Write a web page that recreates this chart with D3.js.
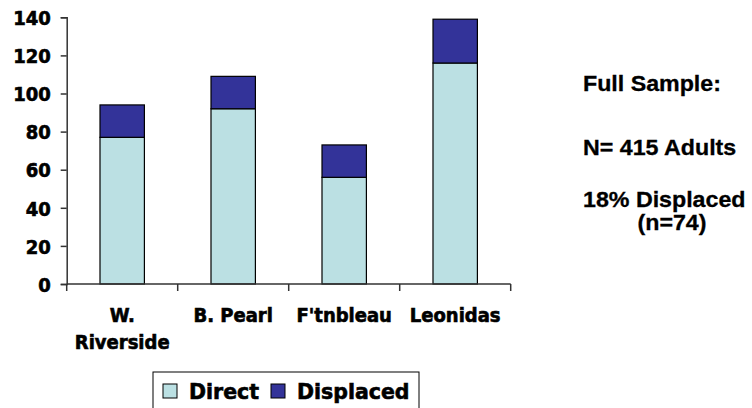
<!DOCTYPE html>
<html><head><meta charset="utf-8">
<script src="https://cdn.jsdelivr.net/npm/d3@7"></script>
<style>
html,body{margin:0;padding:0;background:#fff;}
svg{display:block;}
.ax{font-family:"DejaVu Sans Condensed","DejaVu Sans",sans-serif;font-weight:bold;font-size:20px;fill:#000;stroke:#000;stroke-width:0.6px;}
.leg{font-family:"DejaVu Sans",sans-serif;font-weight:bold;font-size:20.5px;fill:#000;stroke:#000;stroke-width:0.6px;}
.note{font-family:"Liberation Sans",Arial,sans-serif;font-weight:bold;font-size:21.5px;fill:#000;stroke:#000;stroke-width:0.3px;}
</style></head>
<body>
<svg id="chart" width="752" height="408"></svg>
<script>
const categories = [["W.", "Riverside"], ["B. Pearl"], ["F'tnbleau"], ["Leonidas"]];
const direct = [77, 92, 56, 116];
const displaced = [17, 17, 17, 23];
const yTicks = [0, 20, 40, 60, 80, 100, 120, 140];
const seriesNames = ["Direct", "Displaced"];
const notes = ["Full Sample:", "N= 415 Adults", "18% Displaced", "(n=74)"];

const colors = ["#BBE0E3", "#333399"];
const svg = d3.select("#chart");

const x0 = 66.7, x1 = 510.7, yBase = 284, yTop = 17.3;
const keys = categories.map((c, i) => i);
const x = d3.scaleBand().domain(keys).range([x0, x1]).padding(0);
const y = d3.scaleLinear().domain([0, 140]).range([yBase, yTop]);
const barW = x.bandwidth() * 0.4;

const rows = keys.map(i => ({i, Direct: direct[i], Displaced: displaced[i]}));
const stacked = d3.stack().keys(seriesNames)(rows);

const g = svg.append("g");
stacked.forEach((layer, li) => {
  g.selectAll(null).data(layer).enter().append("rect")
    .attr("x", d => x(d.data.i) + (x.bandwidth() - barW) / 2)
    .attr("y", d => y(d[1]))
    .attr("width", barW)
    .attr("height", d => y(d[0]) - y(d[1]))
    .attr("fill", colors[li])
    .attr("stroke", "#000")
    .attr("stroke-width", 1.2);
});

// Y axis
const yAxis = d3.axisLeft(y).tickValues(yTicks).tickSize(6).tickPadding(10);
const ya = svg.append("g").attr("transform", `translate(${x0},0)`).call(yAxis);
ya.select(".domain").attr("stroke", "#333").attr("stroke-width", 1.5);
ya.selectAll(".tick line").attr("stroke", "#333").attr("stroke-width", 1.5);
ya.selectAll(".tick text").attr("class", "ax").attr("dy", "0.36em");
ya.attr("font-size", null).attr("font-family", null);

// X axis (ticks at band boundaries)
const xa = svg.append("g");
xa.append("line").attr("x1", x0).attr("x2", x1).attr("y1", yBase).attr("y2", yBase)
  .attr("stroke", "#333").attr("stroke-width", 1.5);
const bounds = keys.map(i => x(i)).concat([x1]);
xa.selectAll(null).data(bounds).enter().append("line")
  .attr("x1", d => d).attr("x2", d => d).attr("y1", yBase).attr("y2", yBase + 7)
  .attr("stroke", "#333").attr("stroke-width", 1.5);
keys.forEach(i => {
  const t = xa.append("text").attr("class", "ax").attr("text-anchor", "middle");
  categories[i].forEach((line, li) => {
    t.append("tspan").attr("x", x(i) + x.bandwidth() / 2).attr("y", 322 + li * 27).text(line);
  });
});

// Legend
const lg = svg.append("g");
lg.append("rect").attr("x", 153).attr("y", 372).attr("width", 266).attr("height", 50)
  .attr("fill", "#fff").attr("stroke", "#000").attr("stroke-width", 1);
const legItems = [{sx: 163, tx: 189}, {sx: 271, tx: 297}];
seriesNames.forEach((s, i) => {
  lg.append("rect").attr("x", legItems[i].sx).attr("y", 384).attr("width", 14).attr("height", 14)
    .attr("fill", colors[i]).attr("stroke", "#000").attr("stroke-width", 1);
  lg.append("text").attr("class", "leg").attr("x", legItems[i].tx).attr("y", 399).text(s);
});

// Notes
const noteY = [91, 155, 207, 230];
const noteX = [583, 583, 583, 672];
const anchors = ["start", "start", "start", "middle"];
notes.forEach((n, i) => {
  svg.append("g").attr("transform", `translate(${noteX[i]},${noteY[i]}) scale(1.08,1)`)
    .append("text").attr("class", "note").attr("text-anchor", anchors[i]).text(n);
});
</script>
</body></html>
